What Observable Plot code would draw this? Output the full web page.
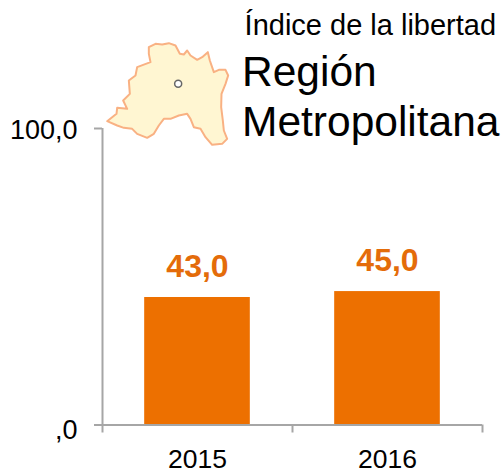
<!DOCTYPE html>
<html><head><meta charset="utf-8">
<script src="https://cdn.jsdelivr.net/npm/d3@7"></script>
<script src="https://cdn.jsdelivr.net/npm/@observablehq/plot@0.6"></script>
<style>
html,body{margin:0;padding:0;background:#fff;overflow:hidden}
#wrap{position:relative;width:504px;height:473px;font-family:"Liberation Sans",Arial,sans-serif;color:#000}
#wrap svg{position:absolute;left:0;top:0;font-family:"Liberation Sans",Arial,sans-serif}
.t{position:absolute;white-space:nowrap;line-height:1}
</style></head><body><div id="wrap"></div>
<script>
const years = ["2015", "2016"];
const values = [43.0, 45.0];
const yTicks = [0, 100];
const slotEdges = [0, 1, 2];
const barHalfWidth = 0.278;
const mapX = [175,195,215,235,255,268,280,290,300,320,335,352,358,370,385,405,413,405,393,392,397,400,410,395,365,345,330,310,300,290,265,240,220,205,190,170,140,125,100,80,50,78,80,110,98,118,115,135,140,180,175];
const mapY = [50,40,42,38,45,70,72,60,75,88,80,65,90,125,118,118,135,160,190,230,270,300,325,340,343,320,295,290,265,250,255,265,265,285,310,322,310,295,292,285,272,250,232,235,210,190,150,135,110,95,70];
const cityX = [263];
const cityY = [160];

const fmt = d => d3.format(".1f")(d).replace(".", ",").replace(/^0,/, ",");
const axisColor = "#a6a6a6";
const orange = "#ed7000";
const labelOrange = "#e46c0a";
const rows = years.map((year, i) => ({year, value: values[i], a: i + 0.5 - barHalfWidth, b: i + 0.5 + barHalfWidth, c: i + 0.5}));

const chart = Plot.plot({
  width: 504, height: 473,
  marginLeft: 102, marginRight: 22, marginTop: 128, marginBottom: 48.5,
  style: {background: "transparent", overflow: "visible"},
  x: {type: "linear", domain: [0, 2], axis: null},
  y: {domain: [0, 100], axis: null},
  marks: [
    Plot.rectY(rows, {x1: "a", x2: "b", y1: 0, y2: "value", fill: orange}),
    Plot.ruleX([0], {stroke: axisColor, strokeWidth: 2}),
    Plot.ruleY([0], {stroke: axisColor, strokeWidth: 2}),
    Plot.axisY({ticks: yTicks, tickSize: 8, text: null, stroke: axisColor, strokeWidth: 2, label: null}),
    Plot.text(yTicks.filter(d => d > 0), {y: d => d, frameAnchor: "left", dx: -25, dy: 1.4, textAnchor: "end", text: fmt, fontSize: 27, fill: "#000"}),
    Plot.text(yTicks.filter(d => d === 0), {y: d => d, frameAnchor: "left", dx: -25, dy: 5, textAnchor: "end", text: fmt, fontSize: 27, fill: "#000"}),
    Plot.axisX({ticks: slotEdges, tickSize: 8, text: null, stroke: axisColor, strokeWidth: 2, label: null}),
    Plot.text(rows, {x: "c", y: 0, text: "year", dy: 34.3, fontSize: 26.5, fill: "#000"}),
    Plot.text(rows, {x: "c", y: "value", text: d => fmt(d.value), dy: -30.5, fontSize: 32, fontWeight: "bold", fill: labelOrange})
  ]
});
document.getElementById("wrap").appendChild(chart);

const outline = mapX.map((x, i) => ({x, y: mapY[i]}));
const map = Plot.plot({
  width: 160, height: 125, margin: 0,
  style: {background: "transparent", overflow: "visible"},
  x: {domain: [0, 480], range: [0, 160], axis: null},
  y: {domain: [0, 375], range: [0, 125], axis: null},
  marks: [
    Plot.line(outline, {x: "x", y: "y", curve: "linear-closed", fill: "#fff6d2", stroke: "#f9b183", strokeWidth: 2}),
    Plot.dot(cityX.map((x, i) => ({x, y: cityY[i]})), {x: "x", y: "y", r: 3.5, fill: "#fff", stroke: "#666", strokeWidth: 1.5})
  ]
});
map.style.left = "90px"; map.style.top = "30px";
document.getElementById("wrap").appendChild(map);

[["Índice de la libertad", 244.6, 11, 29], ["Región", 242, 51, 42.5], ["Metropolitana", 242, 101, 42.5]].forEach(([s, l, t, f]) => {
  const d = document.createElement("div");
  d.className = "t"; d.textContent = s;
  d.style.left = l + "px"; d.style.top = t + "px"; d.style.fontSize = f + "px";
  document.getElementById("wrap").appendChild(d);
});
</script></body></html>
